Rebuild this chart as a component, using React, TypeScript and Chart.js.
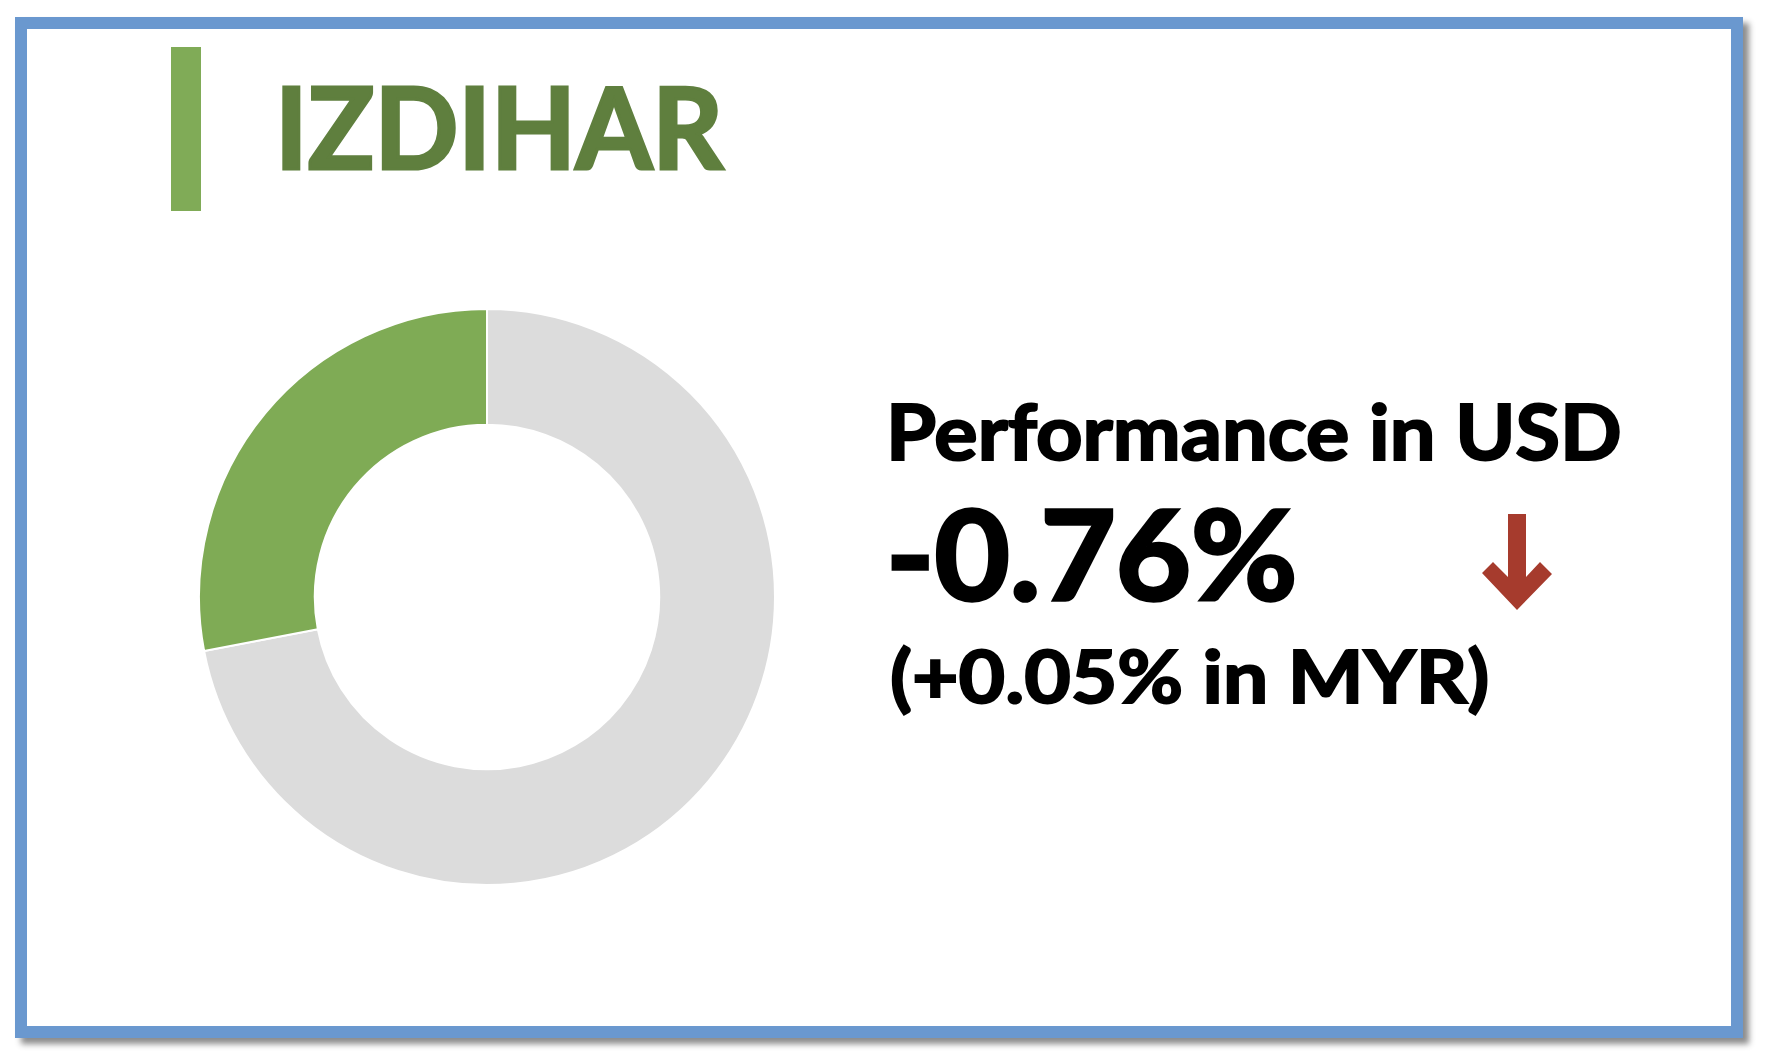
import React, { useEffect, useLayoutEffect, useRef } from 'react';
import { Chart, registerables } from 'chart.js';

Chart.register(...registerables);

// ---- data ----
const fundName = 'IZDIHAR';
const segmentLabels = ['Remainder', 'IZDIHAR'];
const segmentValues = [72, 28];
const segmentColors = ['#DCDCDC', '#7FAB55'];
const perfTitle = 'Performance in USD';
const perfUSD = '-0.76%';
const perfMYR = '(+0.05% in MYR)';

const FONT = 'Lato, "Open Sans", "DejaVu Sans", sans-serif';

type FitProps = {
  text: string;
  left: number;
  right: number;
  baseline: number;
  capHeight: number;
  color: string;
};

function FitText({ text, left, right, baseline, capHeight, color }: FitProps) {
  const boxRef = useRef<HTMLDivElement>(null);
  const markRef = useRef<HTMLSpanElement>(null);

  const c = document.createElement('canvas');
  const ctx = c.getContext('2d')!;
  ctx.font = `700 100px ${FONT}`;
  const capRatio = ctx.measureText('H').actualBoundingBoxAscent / 100 || 0.7165;
  const stroke0 = 0.028; // stroke as fraction of font size
  const fontSize = capHeight / (capRatio + stroke0 / 2);
  const stroke = fontSize * stroke0;
  ctx.font = `700 ${fontSize}px ${FONT}`;
  const m = ctx.measureText(text);
  const inkW = m.actualBoundingBoxLeft + m.actualBoundingBoxRight;
  const sx = (right - left - stroke) / inkW;
  const x = left + stroke / 2 + m.actualBoundingBoxLeft * sx;

  useLayoutEffect(() => {
    const box = boxRef.current;
    const mk = markRef.current;
    if (!box || !mk) return;
    const off = mk.offsetTop;
    box.style.top = `${baseline - off}px`;
  }, [baseline]);

  return (
    <div
      ref={boxRef}
      style={{
        position: 'absolute',
        left: x,
        top: 0,
        whiteSpace: 'nowrap',
        lineHeight: 1,
        fontFamily: FONT,
        fontWeight: 700,
        fontSize,
        color,
        WebkitTextStroke: `${stroke}px ${color}`,
      }}
    >
      <span style={{ display: 'inline-block', transform: `scaleX(${sx})`, transformOrigin: '0 0' }}>
        {text}
      </span>
      <span ref={markRef} style={{ display: 'inline-block', width: 0, height: 0 }} />
    </div>
  );
}

function Donut() {
  const ref = useRef<HTMLCanvasElement>(null);
  useEffect(() => {
    if (!ref.current) return;
    const chart = new Chart(ref.current, {
      type: 'doughnut',
      data: {
        labels: segmentLabels,
        datasets: [
          {
            data: segmentValues,
            backgroundColor: segmentColors,
            borderColor: '#FFFFFF',
            borderWidth: 2,
          },
        ],
      },
      options: {
        animation: false,
        responsive: false,
        maintainAspectRatio: false,
        devicePixelRatio: 1,
        cutout: '59.8%',
        rotation: 0,
        layout: { padding: 0 },
        plugins: {
          legend: { display: false },
          tooltip: { enabled: false },
          title: { display: false },
        },
      },
    });
    return () => chart.destroy();
  }, []);
  return (
    <canvas
      ref={ref}
      width={578}
      height={578}
      style={{ position: 'absolute', left: 198, top: 308, width: 578, height: 578 }}
    />
  );
}

export default function App() {
  return (
    <div style={{ position: 'absolute', left: 0, top: 0, width: 1768, height: 1058, background: '#FFFFFF', overflow: 'hidden' }}>
      <div
        style={{
          position: 'absolute',
          left: 15,
          top: 17,
          width: 1728,
          height: 1021,
          boxSizing: 'border-box',
          border: '12px solid #6A98CF',
          background: '#FFFFFF',
          boxShadow: '6px 6px 6px rgba(0,0,0,0.45)',
        }}
      />
      <div style={{ position: 'absolute', left: 171, top: 47, width: 30, height: 164, background: '#80AB57' }} />
      <FitText text={fundName} left={282} right={725} baseline={169} capHeight={84} color="#5F7F3E" />
      <Donut />
      <FitText text={perfTitle} left={891} right={1620} baseline={460} capHeight={57} color="#000000" />
      <FitText text={perfUSD} left={892} right={1295} baseline={600} capHeight={92} color="#000000" />
      <FitText text={perfMYR} left={891} right={1488} baseline={703} capHeight={54} color="#000000" />
      <svg
        width={1768}
        height={1058}
        style={{ position: 'absolute', left: 0, top: 0, pointerEvents: 'none' }}
      >
        <polygon
          points="1508,514 1526,514 1526,577 1540,562 1552,574 1517,610 1482,573 1493,562 1508,577"
          fill="#A63B2D"
        />
      </svg>
    </div>
  );
}
